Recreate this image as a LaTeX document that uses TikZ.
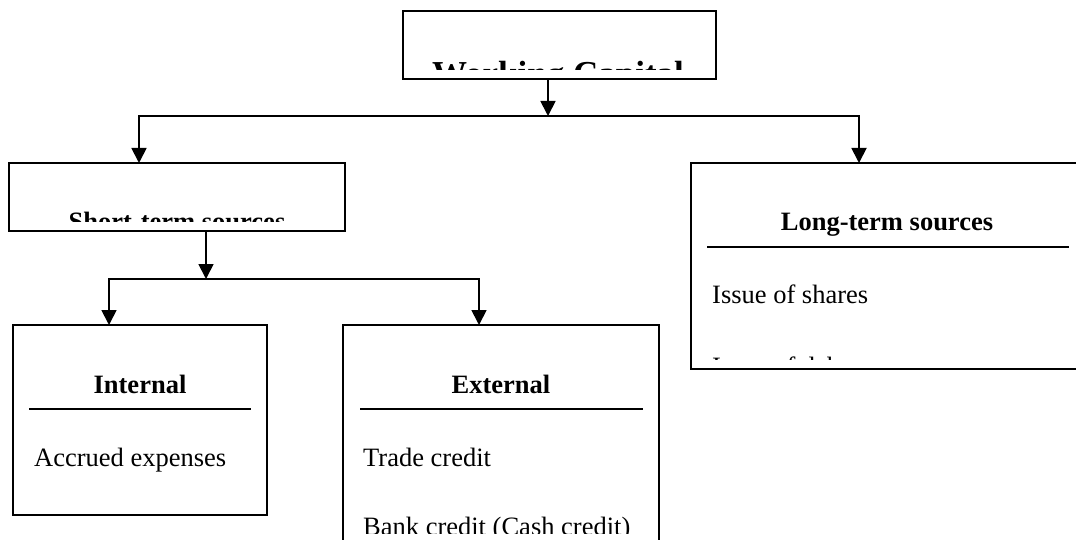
\documentclass[tikz,border=0pt]{standalone}
\usepackage{fontspec}
\setmainfont{Liberation Serif}
\usetikzlibrary{arrows.meta}
\begin{document}
\begin{tikzpicture}[x=1pt,y=-1pt,
  box/.style={draw, line width=1.8pt, inner sep=0pt, outer sep=0pt, anchor=north west},
  conn/.style={line width=1.8pt},
  arr/.style={conn, -{Triangle[length=15pt,width=15pt]}},
  rule/.style={line width=1.2pt},
  txt/.style={font=\fontsize{26.5}{30}\selectfont, inner sep=0pt},
  head/.style={txt, font=\fontsize{26.5}{30}\selectfont\bfseries},
]
\clip (0,0) rectangle (1076,540);
\fill[white] (0,0) rectangle (1076,540);

% boxes
\node[box, minimum width=313pt, minimum height=68pt] (wc) at (403,11) {};
\node[box, minimum width=336pt, minimum height=68pt] (st) at (9,163) {};
\node[box, minimum width=392pt, minimum height=206pt] (lt) at (691,163) {};
\node[box, minimum width=254pt, minimum height=190pt] (in) at (13,325) {};
\node[box, minimum width=316pt, minimum height=240pt] (ex) at (343,325) {};

% junctions
\coordinate (j0) at (548,116);
\coordinate (jl) at (139,116);
\coordinate (jr) at (859,116);
\coordinate (k0) at (206,279);
\coordinate (kl) at (109,279);
\coordinate (kr) at (479,279);

% connectors
\draw[arr] (wc.south -| j0) -- (j0);
\draw[conn, line cap=rect] (jl) -- (jr);
\draw[arr] (jl) -- (jl |- st.north);
\draw[arr] (jr) -- (jr |- lt.north);
\draw[arr] (st.south -| k0) -- (k0);
\draw[conn, line cap=rect] (kl) -- (kr);
\draw[arr] (kl) -- (kl |- in.north);
\draw[arr] (kr) -- (kr |- ex.north);

% texts
\begin{scope}
  \clip (404,12) rectangle (715,70);
  \node[txt, font=\fontsize{35}{40}\selectfont\bfseries, anchor=base] (wct) at (558,86) {Working Capital};
\end{scope}
\begin{scope}
  \clip (10,164) rectangle (344,222);
  \node[head, anchor=base] (stt) at (177,230.5) {Short-term sources};
\end{scope}

\node[head, anchor=base] (ltt) at (887,230) {Long-term sources};
\draw[rule] (707,247) -- (1069,247);
\node[txt, anchor=base west] (lt1) at (712,303) {Issue of shares};
\begin{scope}
  \clip (692,164) rectangle (1076,359);
  \node[txt, anchor=base west] (lt2) at (712,375) {Issue of debentures};
\end{scope}

\node[head, anchor=base] (int) at (140,393) {Internal};
\draw[rule] (29,409) -- (251,409);
\node[txt, anchor=base west] (in1) at (34,466) {Accrued expenses};

\node[head, anchor=base] (ext) at (501,393) {External};
\draw[rule] (360,409) -- (643,409);
\node[txt, anchor=base west] (ex1) at (363,466) {Trade credit};
\begin{scope}
  \clip (344,326) rectangle (658,533);
  \node[txt, anchor=base west] (ex2) at (363,535.5) {Bank credit (Cash credit)};
\end{scope}
\end{tikzpicture}
\end{document}
